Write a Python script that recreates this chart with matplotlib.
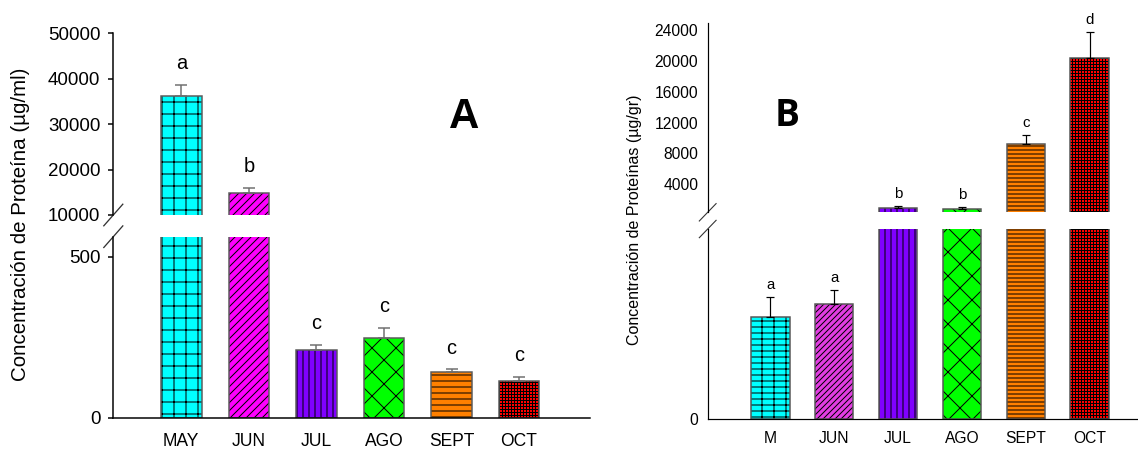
import matplotlib
matplotlib.use('Agg')
import matplotlib.pyplot as plt
import numpy as np

# figure size in pixels, dpi 72 so that 1 pt = 1 px
DPI = 72
W, H = 1138, 449

# Panel A data (ug/ml)
months_a = ['MAY', 'JUN', 'JUL', 'AGO', 'SEPT', 'OCT']
conc_a = [36260, 14780, 210, 247, 142, 115]
err_a = [2360, 1170, 17, 33, 8, 12]
letters_a = ['a', 'b', 'c', 'c', 'c', 'c']

# Panel B data (ug/gr)
months_b = ['M', 'JUN', 'JUL', 'AGO', 'SEPT', 'OCT']
conc_b = [216, 243, 928, 760, 9260, 20370]
err_b = [42, 29, 220, 300, 1170, 3370]
letters_b = ['a', 'a', 'b', 'b', 'c', 'd']

fills = ['#00FFFF', '#FF00FF', '#8000FF', '#00FF00', '#FF8000', '#FF0000']
fills_b = ['#00FFFF', '#E33DE3', '#8000FF', '#00FF00', '#FF8000', '#FF0000']
hatch_a = ['+', '///', '||', 'x', '--', '++++']
hatch_b = ['+-', '////', '||', 'x', '---', '++++']

plt.rcParams['font.family'] = 'Liberation Sans'
plt.rcParams['hatch.linewidth'] = 1.0

fig = plt.figure(figsize=(W / DPI, H / DPI), dpi=DPI)


def box(x0, x1, ytop, ybot):
    return [x0 / W, 1 - ybot / H, (x1 - x0) / W, (ybot - ytop) / H]


axA_top = fig.add_axes(box(113.3, 590, 33.3, 215))
axA_bot = fig.add_axes(box(113.3, 590, 236.7, 417.7))
axB_top = fig.add_axes(box(707.7, 1138, 22.7, 212.3))
axB_bot = fig.add_axes(box(707.7, 1138, 229, 419.3))


def draw_bars(ax, vals, errs, cols, hatches, edge, err_col, elw, cap, ymin):
    x = np.arange(len(vals))
    for xi, v, fc, h in zip(x, vals, cols, hatches):
        ax.bar(xi, v, 0.6, color=fc, hatch=h, edgecolor='black', linewidth=0)
        ax.bar(xi, v, 0.6, fill=False, edgecolor=edge, linewidth=1.5)
    # only the bars that reach into this segment get their error bar
    keep = [i for i in x if vals[i] > ymin]
    ax.errorbar([x[i] for i in keep], [vals[i] for i in keep],
                yerr=[np.zeros(len(keep)), [errs[i] for i in keep]], fmt='none',
                ecolor=err_col, elinewidth=elw, capsize=cap, capthick=elw)


def brk(ax, y0, dxp, dyp, col, lw):
    bb = ax.get_position()
    dx = dxp / (bb.width * W)
    dy = dyp / (bb.height * H)
    ax.plot([-dx, dx], [y0 - dy, y0 + dy], transform=ax.transAxes,
            color=col, lw=lw, clip_on=False)


# ---- panel A ----
for ax, ymin in ((axA_top, 10000), (axA_bot, 0)):
    draw_bars(ax, conc_a, err_a, fills, hatch_a, '#5a5a5a', '#6e6e6e', 1.5, 6, ymin)
    ax.set_xlim(-1.006, 6.05)
    ax.spines['top'].set_visible(False)
    ax.spines['right'].set_visible(False)
    ax.spines['left'].set_linewidth(1.5)
    ax.spines['bottom'].set_linewidth(1.5)
    ax.tick_params(axis='y', length=5, width=1.5, pad=8, labelsize=18.75)

axA_top.set_ylim(10000, 50000)
axA_top.set_yticks([10000, 20000, 30000, 40000, 50000])
axA_top.spines['bottom'].set_visible(False)
axA_top.set_xticks([])

axA_bot.set_ylim(0, 562)
axA_bot.set_yticks([0, 500])
axA_bot.set_xticks(range(len(months_a)))
axA_bot.set_xticklabels(months_a)
axA_bot.tick_params(axis='x', length=0, pad=15, labelsize=17.5)

for i, (v, e, l) in enumerate(zip(conc_a, err_a, letters_a)):
    ax = axA_top if v > 562 else axA_bot
    ax.annotate(l, (i, v + e), xytext=(0, 21), textcoords='offset points',
                ha='center', va='center', fontsize=20)

brk(axA_top, 0, 9.5, 10.8, '#333333', 1.3)
brk(axA_bot, 1, 9.5, 10.8, '#333333', 1.3)

# ---- panel B ----
for ax, ymin in ((axB_top, 371), (axB_bot, 0)):
    draw_bars(ax, conc_b, err_b, fills_b, hatch_b, '#555555', 'black', 1.2, 4, ymin)
    ax.set_xlim(-0.984, 5.76)
    ax.spines['top'].set_visible(False)
    ax.spines['right'].set_visible(False)
    ax.spines['left'].set_linewidth(1.2)
    ax.spines['bottom'].set_linewidth(1.2)
    ax.tick_params(axis='y', length=0, pad=9.4, labelsize=15.6)

axB_top.set_ylim(371, 24946)
axB_top.set_yticks([4000, 8000, 12000, 16000, 20000, 24000])
axB_top.spines['bottom'].set_visible(False)
axB_top.set_xticks([])

axB_bot.set_ylim(0, 400)
axB_bot.set_yticks([0])
axB_bot.set_xticks(range(len(months_b)))
axB_bot.set_xticklabels(months_b)
axB_bot.tick_params(axis='x', length=0, pad=12, labelsize=15.6)

for i, (v, e, l) in enumerate(zip(conc_b, err_b, letters_b)):
    ax = axB_top if v > 400 else axB_bot
    ax.annotate(l, (i, v + e), xytext=(0, 12), textcoords='offset points',
                ha='center', va='center', fontsize=15)

brk(axB_top, 0, 8.4, 8.7, '#333333', 1.1)
brk(axB_bot, 1, 8.4, 8.7, '#333333', 1.1)

# labels and panel letters
fig.text(20.7 / W, 1 - 224 / H, 'Concentración de Proteína (µg/ml)', rotation=90,
         ha='center', va='center', fontsize=20.5)
fig.text(635 / W, 1 - 220 / H, 'Concentración de Proteínas (µg/gr)', rotation=90,
         ha='center', va='center', fontsize=16)
fig.text(464 / W, 1 - 128.3 / H, 'A', fontsize=42, fontweight='bold',
         ha='center', va='baseline')
fig.text(786.7 / W, 1 - 126 / H, 'B', fontsize=37, fontweight='bold',
         family='Open Sans', ha='center', va='baseline')

fig.savefig('out.png', dpi=DPI)
